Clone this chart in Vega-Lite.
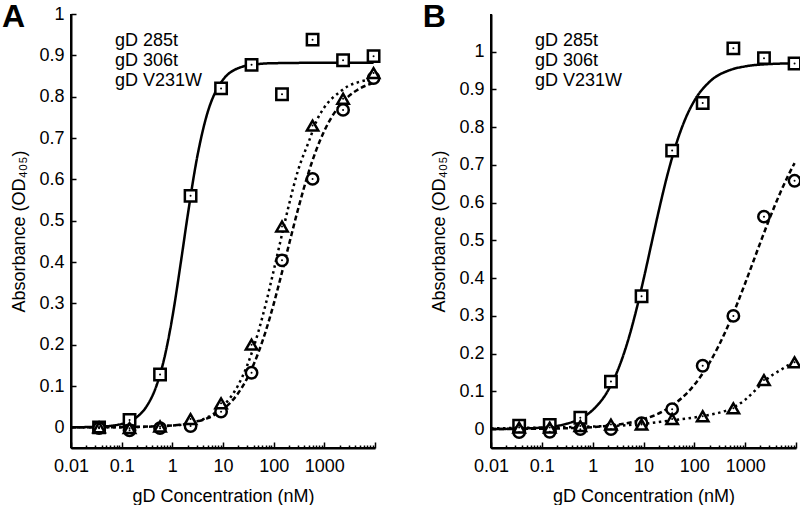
{
  "$schema": "https://vega.github.io/schema/vega-lite/v6.json",
  "background": "white",
  "padding": {"left": 2, "top": 0, "right": 0, "bottom": 0},
  "config": {
    "view": {"stroke": null},
    "font": "Liberation Sans",
    "concat": {"spacing": 37},
    "axis": {
      "grid": false,
      "domain": true,
      "ticks": true,
      "domainColor": "black",
      "domainWidth": 2,
      "tickColor": "black",
      "tickWidth": 1.5,
      "labelColor": "black",
      "titleColor": "black",
      "labelFont": "Liberation Sans",
      "titleFont": "Liberation Sans",
      "labelFontSize": 18,
      "titleFontSize": 18,
      "titleFontWeight": "normal"
    },
    "legend": {
      "labelFont": "Liberation Sans",
      "labelFontSize": 18,
      "labelColor": "black",
      "padding": 0
    }
  },
  "datasets": {
    "letters": [
      {"panel": "A", "label": "A"},
      {"panel": "B", "label": "B"}
    ],
    "points": [
      {"panel": "A", "series": "gD 285t", "conc": 0.0358, "od": 0.0},
      {"panel": "A", "series": "gD 285t", "conc": 0.143, "od": 0.018},
      {"panel": "A", "series": "gD 285t", "conc": 0.572, "od": 0.128},
      {"panel": "A", "series": "gD 285t", "conc": 2.29, "od": 0.56},
      {"panel": "A", "series": "gD 285t", "conc": 9.16, "od": 0.82},
      {"panel": "A", "series": "gD 285t", "conc": 36.6, "od": 0.877},
      {"panel": "A", "series": "gD 285t", "conc": 146, "od": 0.806},
      {"panel": "A", "series": "gD 285t", "conc": 586, "od": 0.938},
      {"panel": "A", "series": "gD 285t", "conc": 2344, "od": 0.888},
      {"panel": "A", "series": "gD 285t", "conc": 9375, "od": 0.898},
      {"panel": "A", "series": "gD 306t", "conc": 0.0358, "od": -0.002},
      {"panel": "A", "series": "gD 306t", "conc": 0.143, "od": -0.007},
      {"panel": "A", "series": "gD 306t", "conc": 0.572, "od": -0.002},
      {"panel": "A", "series": "gD 306t", "conc": 2.29, "od": 0.003},
      {"panel": "A", "series": "gD 306t", "conc": 9.16, "od": 0.038},
      {"panel": "A", "series": "gD 306t", "conc": 36.6, "od": 0.132},
      {"panel": "A", "series": "gD 306t", "conc": 146, "od": 0.404},
      {"panel": "A", "series": "gD 306t", "conc": 586, "od": 0.601},
      {"panel": "A", "series": "gD 306t", "conc": 2344, "od": 0.768},
      {"panel": "A", "series": "gD 306t", "conc": 9375, "od": 0.845},
      {"panel": "A", "series": "gD V231W", "conc": 0.0358, "od": 0.0},
      {"panel": "A", "series": "gD V231W", "conc": 0.143, "od": -0.002},
      {"panel": "A", "series": "gD V231W", "conc": 0.572, "od": 0.002},
      {"panel": "A", "series": "gD V231W", "conc": 2.29, "od": 0.02},
      {"panel": "A", "series": "gD V231W", "conc": 9.16, "od": 0.058},
      {"panel": "A", "series": "gD V231W", "conc": 36.6, "od": 0.2},
      {"panel": "A", "series": "gD V231W", "conc": 146, "od": 0.486},
      {"panel": "A", "series": "gD V231W", "conc": 586, "od": 0.73},
      {"panel": "A", "series": "gD V231W", "conc": 2344, "od": 0.795},
      {"panel": "A", "series": "gD V231W", "conc": 9375, "od": 0.857},
      {"panel": "B", "series": "gD 285t", "conc": 0.0358, "od": 0.009},
      {"panel": "B", "series": "gD 285t", "conc": 0.143, "od": 0.011},
      {"panel": "B", "series": "gD 285t", "conc": 0.572, "od": 0.03},
      {"panel": "B", "series": "gD 285t", "conc": 2.29, "od": 0.126},
      {"panel": "B", "series": "gD 285t", "conc": 9.16, "od": 0.352},
      {"panel": "B", "series": "gD 285t", "conc": 36.6, "od": 0.738},
      {"panel": "B", "series": "gD 285t", "conc": 146, "od": 0.864},
      {"panel": "B", "series": "gD 285t", "conc": 586, "od": 1.009},
      {"panel": "B", "series": "gD 285t", "conc": 2344, "od": 0.983},
      {"panel": "B", "series": "gD 285t", "conc": 9375, "od": 0.969},
      {"panel": "B", "series": "gD 306t", "conc": 0.0358, "od": -0.008},
      {"panel": "B", "series": "gD 306t", "conc": 0.143, "od": -0.007},
      {"panel": "B", "series": "gD 306t", "conc": 0.572, "od": 0.0},
      {"panel": "B", "series": "gD 306t", "conc": 2.29, "od": 0.0},
      {"panel": "B", "series": "gD 306t", "conc": 9.16, "od": 0.016},
      {"panel": "B", "series": "gD 306t", "conc": 36.6, "od": 0.053},
      {"panel": "B", "series": "gD 306t", "conc": 146, "od": 0.168},
      {"panel": "B", "series": "gD 306t", "conc": 586, "od": 0.3},
      {"panel": "B", "series": "gD 306t", "conc": 2344, "od": 0.563},
      {"panel": "B", "series": "gD 306t", "conc": 9375, "od": 0.658},
      {"panel": "B", "series": "gD V231W", "conc": 0.0358, "od": 0.004},
      {"panel": "B", "series": "gD V231W", "conc": 0.143, "od": 0.004},
      {"panel": "B", "series": "gD V231W", "conc": 0.572, "od": 0.008},
      {"panel": "B", "series": "gD V231W", "conc": 2.29, "od": 0.012},
      {"panel": "B", "series": "gD V231W", "conc": 9.16, "od": 0.012},
      {"panel": "B", "series": "gD V231W", "conc": 36.6, "od": 0.027},
      {"panel": "B", "series": "gD V231W", "conc": 146, "od": 0.034},
      {"panel": "B", "series": "gD V231W", "conc": 586, "od": 0.055},
      {"panel": "B", "series": "gD V231W", "conc": 2344, "od": 0.13},
      {"panel": "B", "series": "gD V231W", "conc": 9375, "od": 0.177}
    ],
    "curves": [
      {"panel": "A", "series": "gD 285t", "conc": 0.01, "od": 0.0002},
      {"panel": "A", "series": "gD 285t", "conc": 0.03, "od": 0.001},
      {"panel": "A", "series": "gD 285t", "conc": 0.1, "od": 0.008},
      {"panel": "A", "series": "gD 285t", "conc": 0.2, "od": 0.025},
      {"panel": "A", "series": "gD 285t", "conc": 0.3, "od": 0.048},
      {"panel": "A", "series": "gD 285t", "conc": 0.5, "od": 0.105},
      {"panel": "A", "series": "gD 285t", "conc": 0.7, "od": 0.169},
      {"panel": "A", "series": "gD 285t", "conc": 1, "od": 0.266},
      {"panel": "A", "series": "gD 285t", "conc": 1.5, "od": 0.406},
      {"panel": "A", "series": "gD 285t", "conc": 2, "od": 0.511},
      {"panel": "A", "series": "gD 285t", "conc": 3, "od": 0.645},
      {"panel": "A", "series": "gD 285t", "conc": 5, "od": 0.763},
      {"panel": "A", "series": "gD 285t", "conc": 7, "od": 0.81},
      {"panel": "A", "series": "gD 285t", "conc": 10, "od": 0.841},
      {"panel": "A", "series": "gD 285t", "conc": 20, "od": 0.869},
      {"panel": "A", "series": "gD 285t", "conc": 50, "od": 0.879},
      {"panel": "A", "series": "gD 285t", "conc": 100, "od": 0.881},
      {"panel": "A", "series": "gD 285t", "conc": 1000, "od": 0.882},
      {"panel": "A", "series": "gD 285t", "conc": 9375, "od": 0.882},
      {"panel": "A", "series": "gD 306t", "conc": 0.01, "od": 0.0},
      {"panel": "A", "series": "gD 306t", "conc": 0.1, "od": 0.0005},
      {"panel": "A", "series": "gD 306t", "conc": 1, "od": 0.0046},
      {"panel": "A", "series": "gD 306t", "conc": 3, "od": 0.0136},
      {"panel": "A", "series": "gD 306t", "conc": 5, "od": 0.0224},
      {"panel": "A", "series": "gD 306t", "conc": 10, "od": 0.0436},
      {"panel": "A", "series": "gD 306t", "conc": 20, "od": 0.0829},
      {"panel": "A", "series": "gD 306t", "conc": 30, "od": 0.1186},
      {"panel": "A", "series": "gD 306t", "conc": 50, "od": 0.1809},
      {"panel": "A", "series": "gD 306t", "conc": 70, "od": 0.2333},
      {"panel": "A", "series": "gD 306t", "conc": 100, "od": 0.2982},
      {"panel": "A", "series": "gD 306t", "conc": 150, "od": 0.3809},
      {"panel": "A", "series": "gD 306t", "conc": 200, "od": 0.4416},
      {"panel": "A", "series": "gD 306t", "conc": 300, "od": 0.5258},
      {"panel": "A", "series": "gD 306t", "conc": 500, "od": 0.6205},
      {"panel": "A", "series": "gD 306t", "conc": 700, "od": 0.6724},
      {"panel": "A", "series": "gD 306t", "conc": 1000, "od": 0.7173},
      {"panel": "A", "series": "gD 306t", "conc": 2000, "od": 0.7781},
      {"panel": "A", "series": "gD 306t", "conc": 3000, "od": 0.8006},
      {"panel": "A", "series": "gD 306t", "conc": 5000, "od": 0.8197},
      {"panel": "A", "series": "gD 306t", "conc": 9375, "od": 0.8336},
      {"panel": "A", "series": "gD V231W", "conc": 0.01, "od": 0.0},
      {"panel": "A", "series": "gD V231W", "conc": 0.1, "od": 0.0003},
      {"panel": "A", "series": "gD V231W", "conc": 1, "od": 0.0043},
      {"panel": "A", "series": "gD V231W", "conc": 3, "od": 0.0142},
      {"panel": "A", "series": "gD V231W", "conc": 5, "od": 0.0246},
      {"panel": "A", "series": "gD V231W", "conc": 10, "od": 0.0511},
      {"panel": "A", "series": "gD V231W", "conc": 20, "od": 0.1024},
      {"panel": "A", "series": "gD V231W", "conc": 30, "od": 0.1497},
      {"panel": "A", "series": "gD V231W", "conc": 50, "od": 0.2318},
      {"panel": "A", "series": "gD V231W", "conc": 70, "od": 0.299},
      {"panel": "A", "series": "gD V231W", "conc": 100, "od": 0.379},
      {"panel": "A", "series": "gD V231W", "conc": 150, "od": 0.473},
      {"panel": "A", "series": "gD V231W", "conc": 200, "od": 0.538},
      {"panel": "A", "series": "gD V231W", "conc": 300, "od": 0.62},
      {"panel": "A", "series": "gD V231W", "conc": 500, "od": 0.693},
      {"panel": "A", "series": "gD V231W", "conc": 700, "od": 0.741},
      {"panel": "A", "series": "gD V231W", "conc": 1000, "od": 0.774},
      {"panel": "A", "series": "gD V231W", "conc": 2000, "od": 0.811},
      {"panel": "A", "series": "gD V231W", "conc": 3000, "od": 0.826},
      {"panel": "A", "series": "gD V231W", "conc": 5000, "od": 0.836},
      {"panel": "A", "series": "gD V231W", "conc": 9375, "od": 0.843},
      {"panel": "B", "series": "gD 285t", "conc": 0.01, "od": 0.0003},
      {"panel": "B", "series": "gD 285t", "conc": 0.03, "od": 0.0011},
      {"panel": "B", "series": "gD 285t", "conc": 0.1, "od": 0.0042},
      {"panel": "B", "series": "gD 285t", "conc": 0.3, "od": 0.0139},
      {"panel": "B", "series": "gD 285t", "conc": 0.5, "od": 0.0242},
      {"panel": "B", "series": "gD 285t", "conc": 1, "od": 0.0505},
      {"panel": "B", "series": "gD 285t", "conc": 2, "od": 0.102},
      {"panel": "B", "series": "gD 285t", "conc": 3, "od": 0.1506},
      {"panel": "B", "series": "gD 285t", "conc": 5, "od": 0.2364},
      {"panel": "B", "series": "gD 285t", "conc": 7, "od": 0.3086},
      {"panel": "B", "series": "gD 285t", "conc": 10, "od": 0.3963},
      {"panel": "B", "series": "gD 285t", "conc": 15, "od": 0.5034},
      {"panel": "B", "series": "gD 285t", "conc": 20, "od": 0.5789},
      {"panel": "B", "series": "gD 285t", "conc": 30, "od": 0.6772},
      {"panel": "B", "series": "gD 285t", "conc": 50, "od": 0.7781},
      {"panel": "B", "series": "gD 285t", "conc": 70, "od": 0.8289},
      {"panel": "B", "series": "gD 285t", "conc": 100, "od": 0.87},
      {"panel": "B", "series": "gD 285t", "conc": 200, "od": 0.9206},
      {"panel": "B", "series": "gD 285t", "conc": 500, "od": 0.9514},
      {"panel": "B", "series": "gD 285t", "conc": 1000, "od": 0.9612},
      {"panel": "B", "series": "gD 285t", "conc": 3000, "od": 0.9674},
      {"panel": "B", "series": "gD 285t", "conc": 9375, "od": 0.9692},
      {"panel": "B", "series": "gD 306t", "conc": 0.01, "od": 0.0002},
      {"panel": "B", "series": "gD 306t", "conc": 0.03, "od": 0.0005},
      {"panel": "B", "series": "gD 306t", "conc": 0.1, "od": 0.0011},
      {"panel": "B", "series": "gD 306t", "conc": 0.3, "od": 0.0023},
      {"panel": "B", "series": "gD 306t", "conc": 1, "od": 0.0054},
      {"panel": "B", "series": "gD 306t", "conc": 3, "od": 0.0115},
      {"panel": "B", "series": "gD 306t", "conc": 10, "od": 0.0262},
      {"panel": "B", "series": "gD 306t", "conc": 30, "od": 0.0547},
      {"panel": "B", "series": "gD 306t", "conc": 100, "od": 0.1175},
      {"panel": "B", "series": "gD 306t", "conc": 200, "od": 0.1765},
      {"panel": "B", "series": "gD 306t", "conc": 300, "od": 0.2203},
      {"panel": "B", "series": "gD 306t", "conc": 500, "od": 0.285},
      {"panel": "B", "series": "gD 306t", "conc": 700, "od": 0.3327},
      {"panel": "B", "series": "gD 306t", "conc": 1000, "od": 0.3866},
      {"panel": "B", "series": "gD 306t", "conc": 2000, "od": 0.4952},
      {"panel": "B", "series": "gD 306t", "conc": 3000, "od": 0.557},
      {"panel": "B", "series": "gD 306t", "conc": 5000, "od": 0.629},
      {"panel": "B", "series": "gD 306t", "conc": 7000, "od": 0.6715},
      {"panel": "B", "series": "gD 306t", "conc": 9375, "od": 0.705},
      {"panel": "B", "series": "gD V231W", "conc": 0.01, "od": 0.002},
      {"panel": "B", "series": "gD V231W", "conc": 0.03, "od": 0.003},
      {"panel": "B", "series": "gD V231W", "conc": 0.1, "od": 0.004},
      {"panel": "B", "series": "gD V231W", "conc": 0.3, "od": 0.005},
      {"panel": "B", "series": "gD V231W", "conc": 1, "od": 0.007},
      {"panel": "B", "series": "gD V231W", "conc": 3, "od": 0.009},
      {"panel": "B", "series": "gD V231W", "conc": 10, "od": 0.014},
      {"panel": "B", "series": "gD V231W", "conc": 30, "od": 0.022},
      {"panel": "B", "series": "gD V231W", "conc": 100, "od": 0.031},
      {"panel": "B", "series": "gD V231W", "conc": 200, "od": 0.038},
      {"panel": "B", "series": "gD V231W", "conc": 300, "od": 0.043},
      {"panel": "B", "series": "gD V231W", "conc": 500, "od": 0.053},
      {"panel": "B", "series": "gD V231W", "conc": 1000, "od": 0.078},
      {"panel": "B", "series": "gD V231W", "conc": 1500, "od": 0.1},
      {"panel": "B", "series": "gD V231W", "conc": 2000, "od": 0.117},
      {"panel": "B", "series": "gD V231W", "conc": 3000, "od": 0.138},
      {"panel": "B", "series": "gD V231W", "conc": 5000, "od": 0.157},
      {"panel": "B", "series": "gD V231W", "conc": 9375, "od": 0.18}
    ]
  },
  "hconcat": [
    {
      "width": 304,
      "height": 434,
      "layer": [
        {
          "data": {"name": "curves"},
          "transform": [{"filter": "datum.panel === 'A'"}],
          "mark": {"type": "line", "interpolate": "monotone", "strokeWidth": 2.5, "color": "black"},
          "encoding": {
            "x": {"field": "conc", "type": "quantitative", "scale": {"type": "log", "domain": [0.01, 10000], "nice": false},
              "axis": {"title": "gD Concentration (nM)",
                "values": [0.01,0.02,0.03,0.04,0.05,0.06,0.07,0.08,0.09,0.1,0.2,0.3,0.4,0.5,0.6,0.7,0.8,0.9,1,2,3,4,5,6,7,8,9,10,20,30,40,50,60,70,80,90,100,200,300,400,500,600,700,800,900,1000,2000,3000,4000,5000,6000,7000,8000,9000,10000],
                "labelExpr": "indexof([0.01,0.1,1,10,100,1000], datum.value) >= 0 ? '' + datum.value : ''",
                "labelOverlap": false, "labelFlush": false,
                "tickSize": {"condition": {"test": "abs(log(datum.value)/LN10 - round(log(datum.value)/LN10)) < 0.001", "value": -6}, "value": -3},
                "labelPadding": 15, "titlePadding": 9}},
            "y": {"field": "od", "type": "quantitative", "scale": {"domain": [-0.05, 1], "nice": false, "zero": false},
              "axis": {"title": "Absorbance (OD₄₀₅)", "values": [0,0.1,0.2,0.3,0.4,0.5,0.6,0.7,0.8,0.9,1], "format": "~g", "tickSize": -5, "labelPadding": 12, "titlePadding": 10}},
            "detail": {"field": "series"},
            "strokeDash": {"field": "series", "type": "nominal", "scale": {"domain": ["gD V231W", "gD 306t", "gD 285t"], "range": [[2.5, 3.5], [5, 3], [1, 0]]}, "legend": null}
          }
        },
        {
          "data": {"values": [{}]},
          "mark": {"type": "rule", "color": "black", "strokeWidth": 2},
          "encoding": {
            "x": {"datum": 0.01},
            "x2": {"datum": 10000},
            "y": {"datum": -0.05}
          }
        },
        {
          "data": {"values": [{}]},
          "mark": {"type": "rule", "color": "black", "strokeWidth": 2},
          "encoding": {
            "x": {"datum": 0.01},
            "y": {"datum": -0.05},
            "y2": {"datum": 1}
          }
        },
        {
          "data": {"name": "points"},
          "transform": [{"filter": "datum.panel === 'A'"}],
          "mark": {"type": "point", "filled": false, "fill": "white", "stroke": "black", "strokeWidth": 2.5, "opacity": 1, "size": 130},
          "encoding": {
            "x": {"field": "conc", "type": "quantitative"},
            "y": {"field": "od", "type": "quantitative"},
            "shape": {"field": "series", "type": "nominal", "scale": {"domain": ["gD 285t", "gD 306t", "gD V231W"], "range": ["square", "circle", "triangle-up"]},
              "legend": {"title": null, "orient": "top-left", "offset": 18, "symbolFillColor": "white", "symbolStrokeColor": "black", "symbolStrokeWidth": 2.5, "symbolSize": 110, "labelOffset": 8, "rowPadding": -2.5}}
          }
        },
        {
          "data": {"name": "points"},
          "transform": [{"filter": "datum.panel === 'A'"}],
          "mark": {"type": "point", "filled": true, "color": "black", "size": 4, "opacity": 1},
          "encoding": {
            "x": {"field": "conc", "type": "quantitative"},
            "y": {"field": "od", "type": "quantitative"}
          }
        },
        {
          "data": {"name": "letters"},
          "transform": [{"filter": "datum.panel === 'A'"}],
          "mark": {"type": "text", "font": "Liberation Sans", "fontSize": 32, "fontWeight": "bold", "align": "left", "baseline": "alphabetic", "color": "black"},
          "encoding": {
            "text": {"field": "label"},
            "x": {"datum": 0.000435},
            "y": {"datum": 0.9685}
          }
        }
      ]
    },
    {
      "width": 305,
      "height": 434,
      "layer": [
        {
          "data": {"name": "curves"},
          "transform": [{"filter": "datum.panel === 'B'"}],
          "mark": {"type": "line", "interpolate": "monotone", "strokeWidth": 2.5, "color": "black"},
          "encoding": {
            "x": {"field": "conc", "type": "quantitative", "scale": {"type": "log", "domain": [0.01, 10000], "nice": false},
              "axis": {"title": "gD Concentration (nM)",
                "values": [0.01,0.02,0.03,0.04,0.05,0.06,0.07,0.08,0.09,0.1,0.2,0.3,0.4,0.5,0.6,0.7,0.8,0.9,1,2,3,4,5,6,7,8,9,10,20,30,40,50,60,70,80,90,100,200,300,400,500,600,700,800,900,1000,2000,3000,4000,5000,6000,7000,8000,9000,10000],
                "labelExpr": "indexof([0.01,0.1,1,10,100,1000], datum.value) >= 0 ? '' + datum.value : ''",
                "labelOverlap": false, "labelFlush": false,
                "tickSize": {"condition": {"test": "abs(log(datum.value)/LN10 - round(log(datum.value)/LN10)) < 0.001", "value": -6}, "value": -3},
                "labelPadding": 15, "titlePadding": 9}},
            "y": {"field": "od", "type": "quantitative", "scale": {"domain": [-0.05, 1.1], "nice": false, "zero": false},
              "axis": {"title": "Absorbance (OD₄₀₅)", "values": [0,0.1,0.2,0.3,0.4,0.5,0.6,0.7,0.8,0.9,1], "format": "~g", "tickSize": -5, "labelPadding": 12, "titlePadding": 10}},
            "detail": {"field": "series"},
            "strokeDash": {"field": "series", "type": "nominal", "scale": {"domain": ["gD V231W", "gD 306t", "gD 285t"], "range": [[2.5, 3.5], [5, 3], [1, 0]]}, "legend": null}
          }
        },
        {
          "data": {"values": [{}]},
          "mark": {"type": "rule", "color": "black", "strokeWidth": 2},
          "encoding": {
            "x": {"datum": 0.01},
            "x2": {"datum": 10000},
            "y": {"datum": -0.05}
          }
        },
        {
          "data": {"values": [{}]},
          "mark": {"type": "rule", "color": "black", "strokeWidth": 2},
          "encoding": {
            "x": {"datum": 0.01},
            "y": {"datum": -0.05},
            "y2": {"datum": 1.1}
          }
        },
        {
          "data": {"name": "points"},
          "transform": [{"filter": "datum.panel === 'B'"}],
          "mark": {"type": "point", "filled": false, "fill": "white", "stroke": "black", "strokeWidth": 2.5, "opacity": 1, "size": 130},
          "encoding": {
            "x": {"field": "conc", "type": "quantitative"},
            "y": {"field": "od", "type": "quantitative"},
            "shape": {"field": "series", "type": "nominal", "scale": {"domain": ["gD 285t", "gD 306t", "gD V231W"], "range": ["square", "circle", "triangle-up"]},
              "legend": {"title": null, "orient": "top-left", "offset": 18, "symbolFillColor": "white", "symbolStrokeColor": "black", "symbolStrokeWidth": 2.5, "symbolSize": 110, "labelOffset": 8, "rowPadding": -2.5}}
          }
        },
        {
          "data": {"name": "points"},
          "transform": [{"filter": "datum.panel === 'B'"}],
          "mark": {"type": "point", "filled": true, "color": "black", "size": 4, "opacity": 1},
          "encoding": {
            "x": {"field": "conc", "type": "quantitative"},
            "y": {"field": "od", "type": "quantitative"}
          }
        },
        {
          "data": {"name": "letters"},
          "transform": [{"filter": "datum.panel === 'B'"}],
          "mark": {"type": "text", "font": "Liberation Sans", "fontSize": 32, "fontWeight": "bold", "align": "left", "baseline": "alphabetic", "color": "black"},
          "encoding": {
            "text": {"field": "label"},
            "x": {"datum": 0.000455},
            "y": {"datum": 1.0656}
          }
        }
      ]
    }
  ],
  "resolve": {"scale": {"shape": "independent", "strokeDash": "independent"}}
}
